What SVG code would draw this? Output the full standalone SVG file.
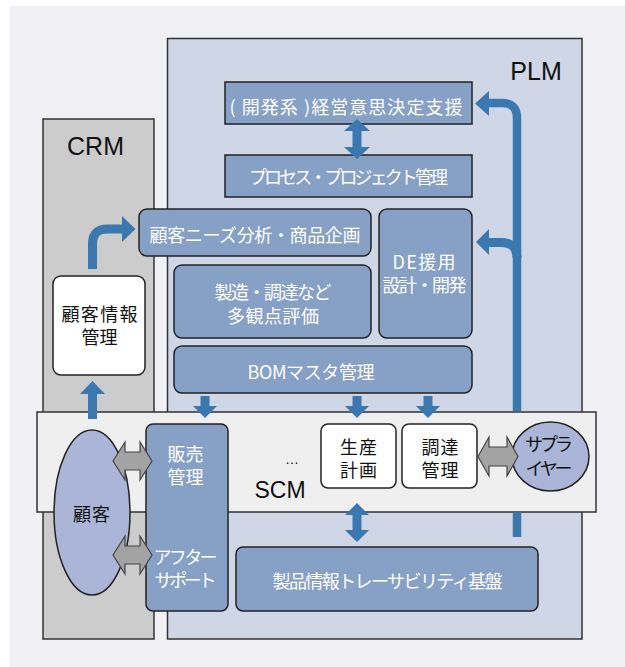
<svg xmlns="http://www.w3.org/2000/svg" width="625" height="667" viewBox="0 0 625 667">
<style>
.lbl{font-family:"Liberation Sans",Arial,sans-serif;font-size:25px;fill:#111;text-anchor:middle}
.t{font-family:"Noto Sans CJK JP","Noto Sans",sans-serif;font-size:18px;text-anchor:middle;dominant-baseline:central}
.w{fill:#ffffff}
.k{fill:#111111}
.blue{fill:#87a0c6;stroke:#222;stroke-width:1.5}
.white{fill:#ffffff;stroke:#222;stroke-width:1.5}
.ell{fill:#aab5d7;stroke:#222;stroke-width:1.5}
.ln{fill:none;stroke:#3c78b0;stroke-width:9}
.hd{fill:#3c78b0}
.gray{fill:#a3a3a3;stroke:#444;stroke-width:1.2;stroke-linejoin:miter}
</style>
<rect x="10" y="6" width="615" height="661" fill="#f0f0f5"/>
<g id="plm">
<rect x="167.5" y="38.5" width="414.5" height="600.5" fill="#cfd6e6" stroke="#333" stroke-width="1.5"/>
<text class="lbl" x="536" y="80">PLM</text>
</g>
<g id="crm">
<rect x="43" y="119" width="111" height="520" fill="#cccccc" stroke="#333" stroke-width="1.5"/>
<text class="lbl" x="95.5" y="155">CRM</text>
</g>
<g id="scm">
<rect x="37" y="412" width="559" height="100" fill="#efefef" stroke="#333" stroke-width="1.5"/>
<text class="lbl" x="280" y="498" style="font-size:23px">SCM</text>
<text x="292" y="464" style="font-family:'Liberation Sans',sans-serif;font-size:14px;fill:#111;text-anchor:middle">…</text>
</g>
<g id="decision">
<rect class="blue" x="225" y="82" width="247" height="42"/>
<text class="t w" x="346" y="106" textLength="233">( 開発系 )経営意思決定支援</text>
</g>
<g id="process">
<rect class="blue" x="225" y="155" width="247" height="42"/>
<text class="t w" x="348.5" y="176" textLength="199">プロセス・プロジェクト管理</text>
</g>
<g id="needs">
<rect class="blue" x="139" y="209" width="232" height="47" rx="8"/>
<text class="t w" x="255" y="234" textLength="211">顧客ニーズ分析・商品企画</text>
</g>
<g id="eval">
<rect class="blue" x="174" y="265" width="197" height="73" rx="8"/>
<text class="t w"><tspan x="273" y="291" textLength="117">製造・調達など</tspan><tspan x="273" y="315" textLength="92">多観点評価</tspan></text>
</g>
<g id="de">
<rect class="blue" x="379" y="209" width="93" height="129" rx="8"/>
<text class="t w"><tspan x="424" y="261" textLength="63">DE援用</tspan><tspan x="424.5" y="284" textLength="84">設計・開発</tspan></text>
</g>
<g id="bom">
<rect class="blue" x="174" y="346" width="298" height="47" rx="8"/>
<text class="t w" x="311" y="371" textLength="127">BOMマスタ管理</text>
</g>
<g id="custinfo">
<rect class="white" x="53" y="276" width="92" height="99" rx="8"/>
<text class="t k"><tspan x="99.5" y="313" textLength="76">顧客情報</tspan><tspan x="99.5" y="336" textLength="36">管理</tspan></text>
</g>
<g id="sales">
<rect class="blue" x="146" y="424" width="82" height="187" rx="7"/>
<text class="t w"><tspan x="185.5" y="453" textLength="36">販売</tspan><tspan x="185.5" y="476" textLength="36">管理</tspan></text>
<text class="t w"><tspan x="185.5" y="556" textLength="64">アフター</tspan><tspan x="185.5" y="579" textLength="62">サポート</tspan></text>
</g>
<g id="prodplan">
<rect class="white" x="321" y="424" width="75" height="64" rx="7"/>
<text class="t k"><tspan x="358.5" y="446" textLength="37">生産</tspan><tspan x="358.5" y="469" textLength="37">計画</tspan></text>
</g>
<g id="procure">
<rect class="white" x="402" y="424" width="75" height="64" rx="7"/>
<text class="t k"><tspan x="440" y="446" textLength="37">調達</tspan><tspan x="440" y="469" textLength="37">管理</tspan></text>
</g>
<g id="trace">
<rect class="blue" x="236" y="547" width="302" height="64" rx="7"/>
<text class="t w" x="387.5" y="580" textLength="230">製品情報トレーサビリティ基盤</text>
</g>
<g id="customer">
<ellipse class="ell" cx="92" cy="512.5" rx="38" ry="82.5"/>
<text class="t k" x="91.5" y="513" textLength="37">顧客</text>
</g>
<g id="supplier">
<ellipse class="ell" cx="550.5" cy="456.5" rx="38.5" ry="34.5"/>
<text class="t k"><tspan x="549" y="443" textLength="48">サプラ</tspan><tspan x="549" y="467" textLength="47">イヤー</tspan></text>
</g>
<g id="connectors">
<path class="ln" d="M517 411 V118 Q517 103 502 103 H488" style="stroke-width:8.5"/>
<polygon class="hd" points="475,103.5 489,91 489,116"/>
<path class="ln" d="M517 512.5 V537" style="stroke-width:8.5"/>
<path class="ln" d="M517 258 Q517 242.5 501 242.5 H488"/>
<polygon class="hd" points="476,242 489,229 489,255"/>
<path class="ln" d="M92.5 269 V244 Q92.5 229 107.5 229 H123"/>
<polygon class="hd" points="135.5,229 122,216 122,242"/>
<path class="ln" d="M92.5 419 V392"/>
<polygon class="hd" points="92.5,381 80,394 105,394"/>
<path class="ln" d="M205 396 V407"/>
<polygon class="hd" points="193,406 217,406 205,418"/>
<path class="ln" d="M357 396 V407"/>
<polygon class="hd" points="345,406 369,406 357,418"/>
<path class="ln" d="M428 396 V407"/>
<polygon class="hd" points="416,406 440,406 428,418"/>
<polygon class="hd" points="357,119 370,131 361.5,131 361.5,147 370,147 357,159 344,147 352.5,147 352.5,131 344,131"/>
<polygon class="hd" points="357,503 369,515 361.5,515 361.5,530 369,530 357,542 345,530 352.5,530 352.5,515 345,515"/>
<polygon class="gray" points="113,461 125,442 125,452 140,452 140,442 152,461 140,480 140,470 125,470 125,480"/>
<polygon class="gray" points="113,555 125,536 125,546 140,546 140,536 152,555 140,574 140,564 125,564 125,574"/>
<polygon class="gray" points="478,456.5 489,437 489,447 507,447 507,437 518,456.5 507,476 507,466 489,466 489,476"/>
</g>
</svg>
